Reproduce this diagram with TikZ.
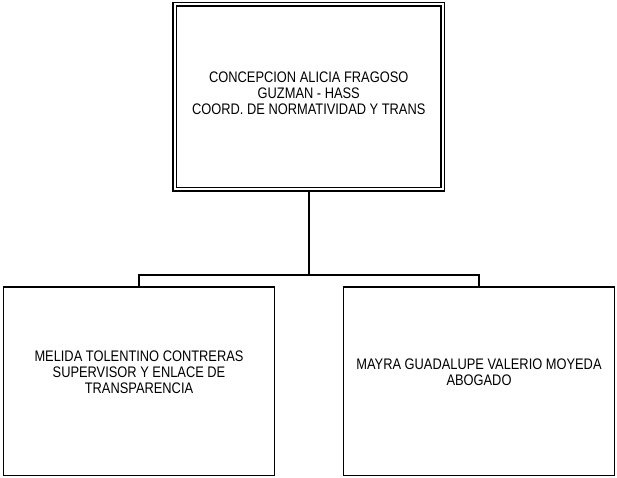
\documentclass[tikz,border=0pt]{standalone}
\usepackage{fontspec}
\setmainfont{Liberation Sans}
\newfontfamily\narrowfont[FakeStretch=0.84]{Liberation Sans}
\usetikzlibrary{positioning}

\begin{document}
\begin{tikzpicture}[
  x=1pt, y=-1pt,
  head/.style={
    draw=black,
    double,
    double distance=2.4pt,
    line width=1.2pt,
    minimum width=268pt,
    minimum height=185pt,
    inner sep=0pt
  },
  unit/.style={
    draw=black,
    line width=1.6pt,
    minimum width=271pt,
    minimum height=188.5pt,
    inner sep=0pt
  },
  caption/.style={
    align=center,
    font=\narrowfont\fontsize{15.3}{16}\selectfont
  },
  link/.style={draw=black, line width=1.6pt}
]
  \useasboundingbox (0,0) rectangle (617,477);

  % Coordinator on top
  \node[head] (coord) at (308.75,96.7) {};
  \node[caption] (coordtext) at ([yshift=3pt]coord.center) {
    CONCEPCION ALICIA FRAGOSO\\
    GUZMAN - HASS\\
    COORD. DE NORMATIVIDAD Y TRANS
  };

  % Two staff boxes below
  \node[unit] (supervisor) at (139,381.25) {};
  \node[caption] (supervisortext) at ([yshift=9pt]supervisor.center) {
    MELIDA TOLENTINO CONTRERAS\\
    SUPERVISOR Y ENLACE DE\\
    TRANSPARENCIA
  };

  \node[unit] (abogado) at (479,381.25) {};
  \node[caption] (abogadotext) at ([yshift=9pt]abogado.center) {
    MAYRA GUADALUPE VALERIO MOYEDA\\
    ABOGADO
  };

  % Connectors
  \coordinate (bus) at (308.75,275);
  \draw[link] (coord.south) -- (bus);
  \draw[link] (supervisor.north) |- (bus) -| (abogado.north);

\end{tikzpicture}
\end{document}
